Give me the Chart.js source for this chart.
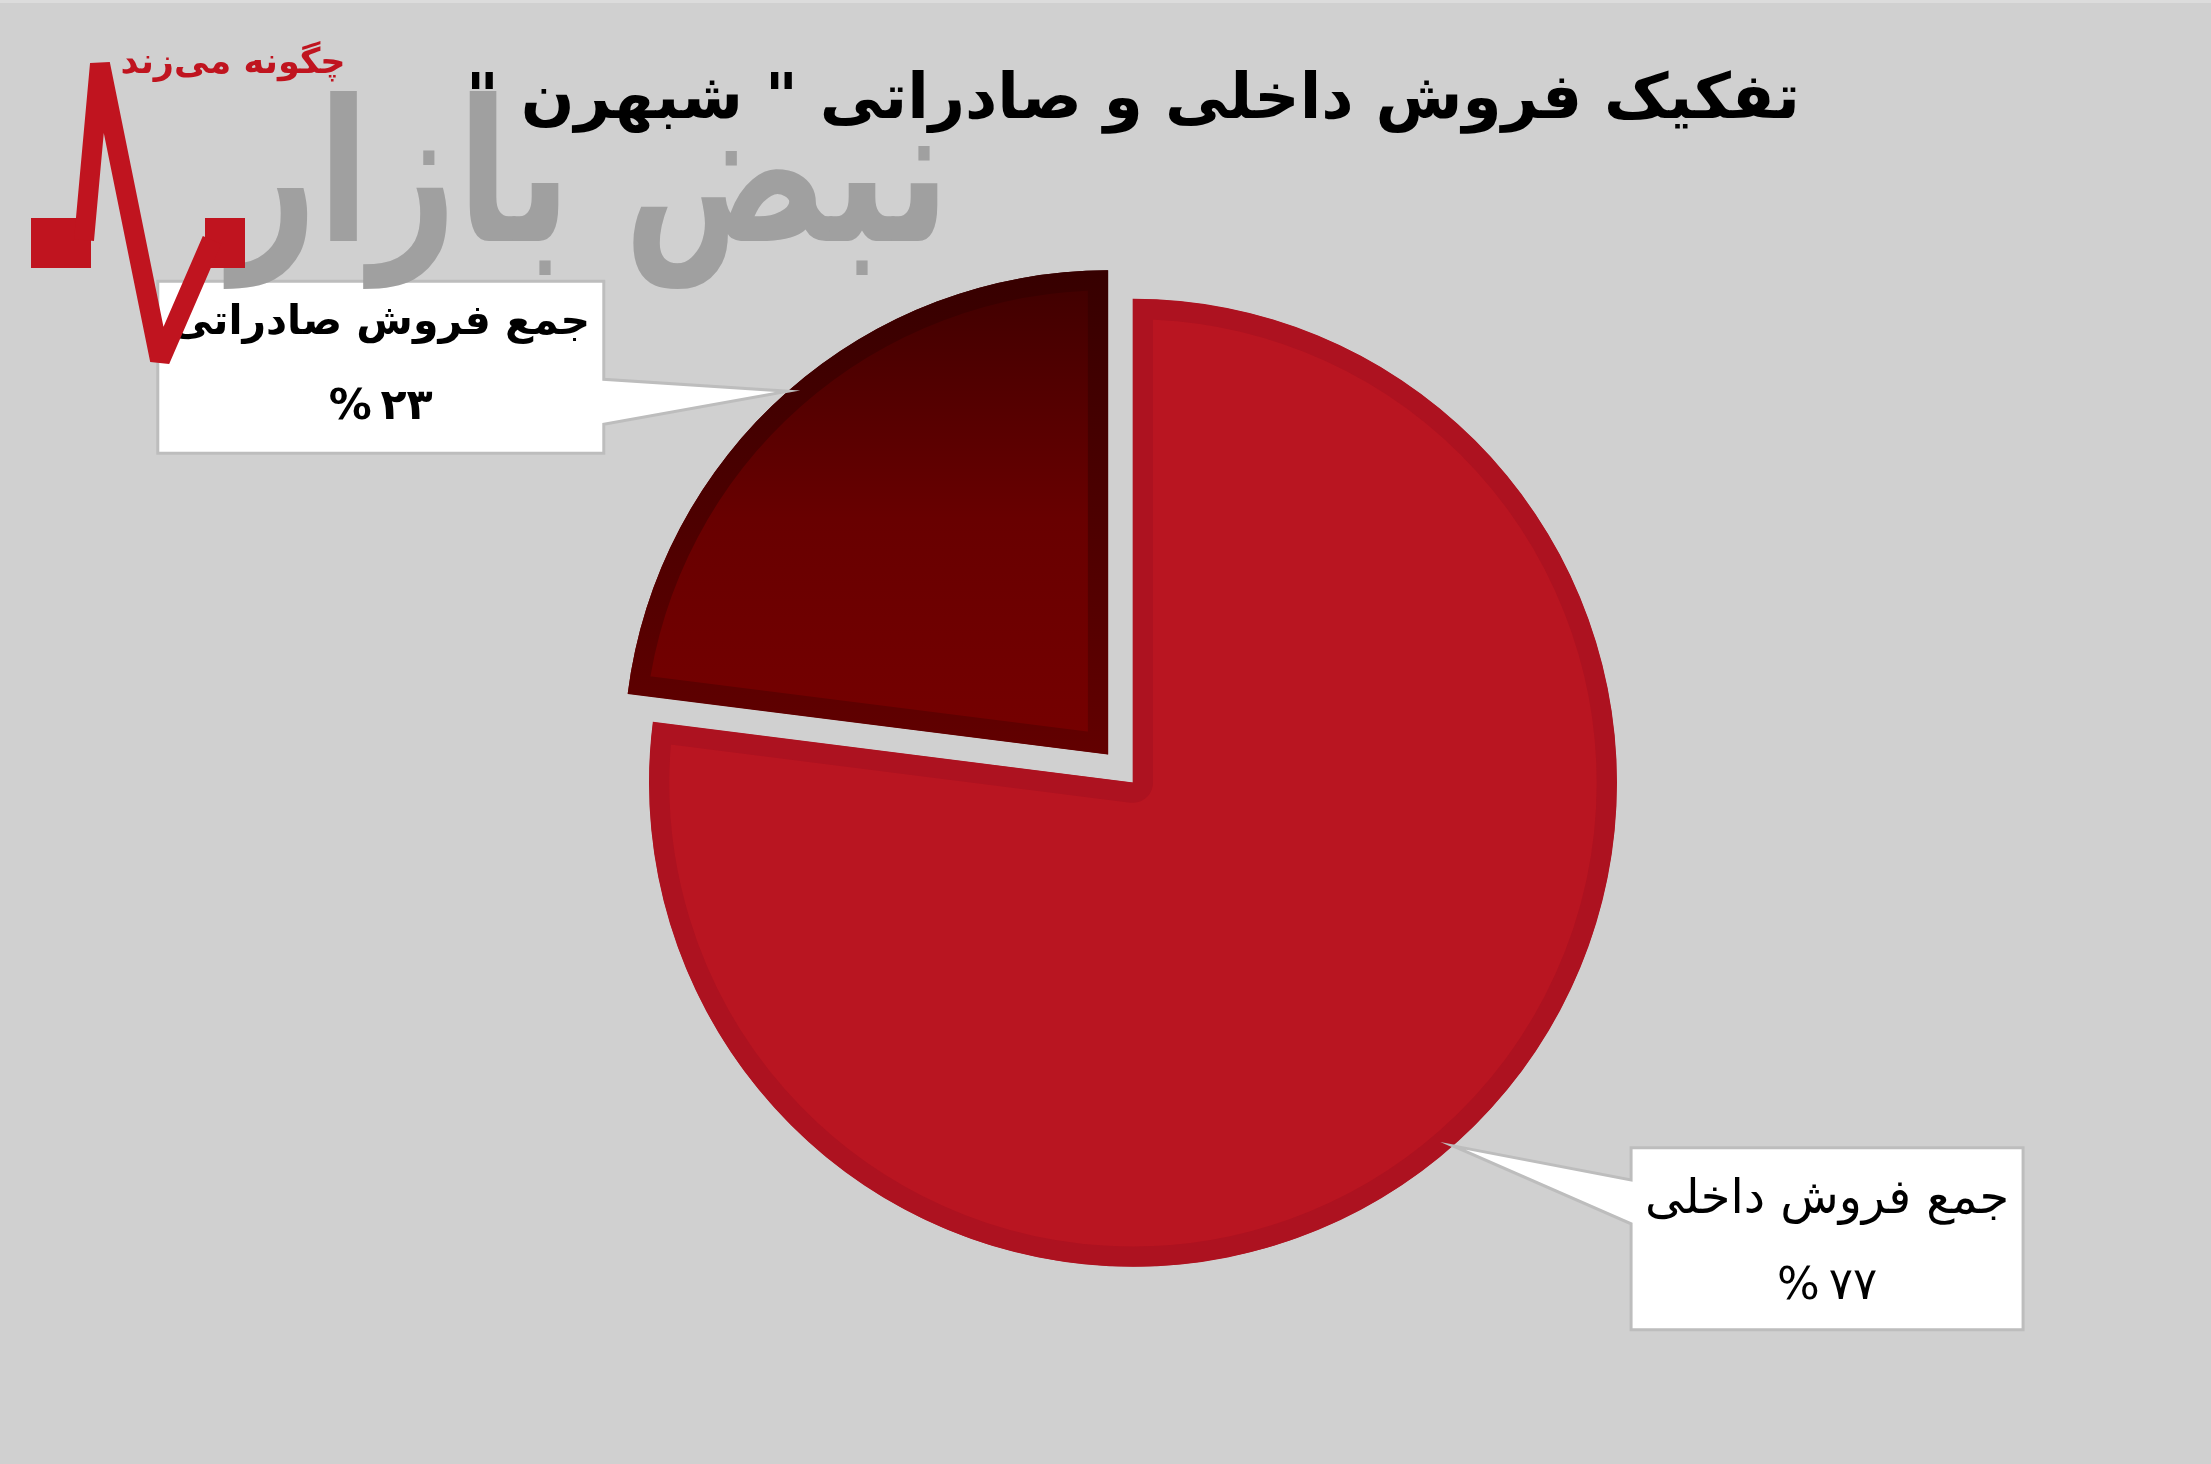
<!DOCTYPE html>
<html lang="fa">
<head>
<meta charset="UTF-8">
<title>تفکیک فروش داخلی و صادراتی شبهرن</title>
<script src="https://cdn.jsdelivr.net/npm/chart.js"></script>
<style>
  html, body { margin: 0; padding: 0; background: #d0d0d0; }
  canvas { display: block; }
</style>
</head>
<body>
<canvas id="salesChart" width="2211" height="1464" dir="rtl"></canvas>
<script>
// data
const titleText = 'تفکیک فروش داخلی و صادراتی " شبهرن "';
const categories = ['جمع فروش داخلی', 'جمع فروش صادراتی'];
const shares = [77, 23];
const shareLabels = ['%\u2009۷۷', '%\u2009۲۳'];

const FONT = '"DejaVu Sans", "Noto Sans", sans-serif';
const pieRadius = 484;

// slice fills: solid red for domestic, dark red gradient for exports
function sliceFill(context, border) {
  if (context.dataIndex === 0) return border ? '#ad1220' : '#b91521';
  const area = context.chart.chartArea;
  if (!area) return border ? '#5c0000' : '#6e0000';
  const cy = (area.top + area.bottom) / 2;
  const g = context.chart.ctx.createLinearGradient(0, cy - pieRadius - 40, 0, cy);
  if (border) {
    g.addColorStop(0, '#330000');
    g.addColorStop(1, '#620000');
  } else {
    g.addColorStop(0, '#380000');
    g.addColorStop(0.55, '#680000');
    g.addColorStop(1, '#760000');
  }
  return g;
}

// write text centred on (cx, cy), scaled so it is targetW wide
function fitText(c, text, cx, cy, targetW, weight, dir) {
  c.font = weight + ' 100px ' + FONT;
  const w = c.measureText(text).width;
  const size = 100 * targetW / w;
  c.font = weight + ' ' + size.toFixed(1) + 'px ' + FONT;
  c.direction = dir;
  c.textAlign = 'center';
  c.textBaseline = 'middle';
  c.fillText(text, cx, cy);
}

const background = {
  id: 'background',
  beforeDraw(chart) {
    const c = chart.ctx;
    c.save();
    c.fillStyle = '#d0d0d0';
    c.fillRect(0, 0, chart.width, chart.height);
    c.fillStyle = '#dcdcdc';
    c.fillRect(0, 0, chart.width, 3);
    c.restore();
  }
};

// callout boxes, placed relative to the tip on the slice edge
const callouts = [
  { side: 'right', dx: 178, dy: 2, w: 392, h: 182, base: [34, 78], y1: 53, y2: 139, w1: 364, w2: 100, weight: 'normal' },
  { side: 'left', dx: -630, dy: -110, w: 446, h: 172, base: [-12, 33], y1: 42, y2: 127, w1: 419, w2: 104, weight: 'bold' }
];

const calloutPlugin = {
  id: 'callouts',
  afterDatasetsDraw(chart) {
    const c = chart.ctx;
    const meta = chart.getDatasetMeta(0);
    meta.data.forEach((arc, i) => {
      const p = arc.getProps(['x', 'y', 'startAngle', 'endAngle', 'outerRadius'], true);
      const mid = (p.startAngle + p.endAngle) / 2;
      const shift = (arc.options.offset || 0) / 4;
      const tx = p.x + Math.cos(mid) * (p.outerRadius + shift);
      const ty = p.y + Math.sin(mid) * (p.outerRadius + shift);
      const L = callouts[i];
      const left = tx + L.dx, top = ty + L.dy, right = left + L.w, bottom = top + L.h;

      c.save();
      c.beginPath();
      if (L.side === 'right') {
        c.moveTo(left, top);
        c.lineTo(right, top);
        c.lineTo(right, bottom);
        c.lineTo(left, bottom);
        c.lineTo(left, ty + L.base[1]);
        c.lineTo(tx, ty);
        c.lineTo(left, ty + L.base[0]);
      } else {
        c.moveTo(left, top);
        c.lineTo(right, top);
        c.lineTo(right, ty + L.base[0]);
        c.lineTo(tx, ty);
        c.lineTo(right, ty + L.base[1]);
        c.lineTo(right, bottom);
        c.lineTo(left, bottom);
      }
      c.closePath();
      c.fillStyle = '#ffffff';
      c.fill();
      c.lineWidth = 3;
      c.strokeStyle = '#bdbdbd';
      c.stroke();

      c.fillStyle = '#000000';
      const cx = (left + right) / 2;
      fitText(c, categories[i], cx, top + L.y1, L.w1, L.weight, 'rtl');
      fitText(c, shareLabels[i], cx, top + L.y2, L.w2, L.weight, 'ltr');
      c.restore();
    });
  }
};

// site watermark in the top-left corner
const watermark = {
  id: 'watermark',
  afterDraw(chart) {
    const c = chart.ctx;
    c.save();
    // big grey word, stretched a little taller like the logo
    c.save();
    c.translate(590, 190);
    c.scale(1, 1.3);
    c.fillStyle = '#a0a0a0';
    fitText(c, 'نبض بازار', 0, 0, 720, 'bold', 'rtl');
    c.restore();
    // red pulse line
    c.fillStyle = '#c0141f';
    c.fillRect(31, 218, 60, 50);
    c.fillRect(205, 218, 40, 50);
    c.strokeStyle = '#c0141f';
    c.lineWidth = 20;
    c.lineJoin = 'bevel';
    c.beginPath();
    c.moveTo(84, 240);
    c.lineTo(100, 64);
    c.lineTo(160, 360);
    c.lineTo(212, 240);
    c.stroke();
    fitText(c, 'چگونه می‌زند', 233, 64, 225, 'bold', 'rtl');
    c.restore();
  }
};

const ctx = document.getElementById('salesChart').getContext('2d');
const salesChart = new Chart(ctx, {
  type: 'pie',
  data: {
    labels: categories,
    datasets: [{
      data: shares,
      backgroundColor: (context) => sliceFill(context, false),
      borderColor: (context) => sliceFill(context, true),
      borderWidth: 20,
      borderAlign: 'inner',
      offset: [0, 152],
      radius: pieRadius,
      clip: false
    }]
  },
  options: {
    responsive: false,
    animation: false,
    layout: { padding: { left: 55, right: 0, top: 0, bottom: 38 } },
    plugins: {
      legend: { display: false },
      tooltip: { enabled: false },
      title: {
        display: true,
        text: titleText,
        color: '#000000',
        font: { family: FONT, size: 63, weight: 'bold' },
        padding: { top: 64, bottom: 0 }
      }
    }
  },
  plugins: [background, calloutPlugin, watermark]
});
</script>
</body>
</html>
